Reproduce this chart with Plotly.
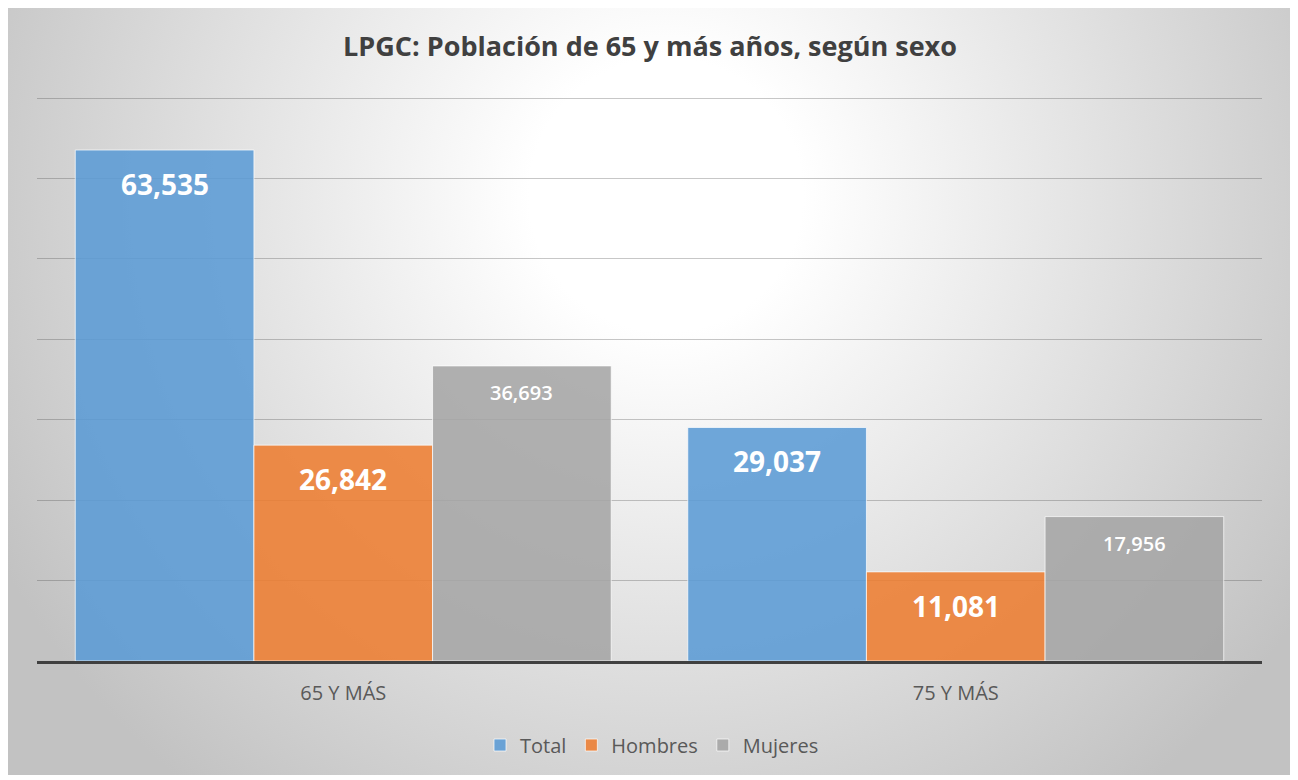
import base64
import plotly.graph_objects as go

categories = ["65 Y MÁS", "75 Y MÁS"]
series_names = ["Total", "Hombres", "Mujeres"]
total = [63535, 29037]
hombres = [26842, 11081]
mujeres = [36693, 17956]

# the page places the figure 8px from the top-left corner
OFF = 8
W, H = 1298 - OFF, 780 - OFF
YMAX = 71000
scale = (661 - 98) / 70000.0          # px per unit
top_px = 661 - YMAX * scale
ml, mt = 37 - OFF, int(round(top_px - OFF))
mr = W - (1262 - OFF)
mb = H - (661 - OFF)
pw, ph = W - ml - mr, H - mt - mb

svg = (
    '<svg xmlns="http://www.w3.org/2000/svg" width="1286" height="770" viewBox="0 0 1286 770" preserveAspectRatio="none">'
    '<defs><radialGradient id="g" gradientUnits="userSpaceOnUse" cx="660" cy="190" r="760">'
    '<stop offset="0" stop-color="#ffffff"/><stop offset="0.18" stop-color="#ffffff"/>'
    '<stop offset="1" stop-color="#c2c2c2"/></radialGradient></defs>'
    '<rect x="0" y="0" width="1286" height="770" fill="url(#g)"/></svg>'
)
src = "data:image/svg+xml;base64," + base64.b64encode(svg.encode()).decode()

fx = lambda px: (px - OFF - ml) / pw
fy = lambda py: 1 - (py - OFF - mt) / ph

colors = ["rgba(91,155,213,0.88)", "rgba(237,125,49,0.88)", "rgba(165,165,165,0.88)"]
data = [total, hombres, mujeres]

fig = go.Figure()
for name, vals, col in zip(series_names, data, colors):
    fig.add_trace(go.Bar(
        x=categories, y=vals, name=name,
        marker=dict(color=col, line=dict(color="rgba(255,255,255,0.7)", width=1)),
        hoverinfo="skip",
    ))

annotations = []
for i, (name, vals) in enumerate(zip(series_names, data)):
    big = name != "Mujeres"
    for j, v in enumerate(vals):
        annotations.append(dict(
            x=categories[j], y=v, xref="x", yref="y",
            xshift=(i - 1) * (pw / 2 * 0.875 / 3),
            yshift=-34 if big else -27,
            text=f"{v:,}", showarrow=False, yanchor="middle",
            font=dict(family="Open Sans", size=28 if big else 20, color="white",
                      weight="bold" if big else 600),
        ))

fig.update_layout(
    width=W, height=H,
    margin=dict(l=ml, r=mr, t=mt, b=mb),
    paper_bgcolor="white", plot_bgcolor="rgba(0,0,0,0)",
    barmode="group", bargap=0.125, bargroupgap=0,
    title=dict(text="<b>LPGC: Población de 65 y más años, según sexo</b>",
               x=fx(650), xanchor="center", xref="paper",
               y=1 - (47 - OFF) / H, yanchor="middle",
               font=dict(family="Open Sans", size=27, color="#404040")),
    font=dict(family="Open Sans", color="#595959"),
    showlegend=True,
    legend=dict(orientation="h", x=fx(652), xanchor="center", y=fy(745), yanchor="middle",
                font=dict(family="Open Sans", size=20, color="#595959"),
                itemwidth=30, traceorder="normal", bgcolor="rgba(0,0,0,0)"),
    xaxis=dict(showline=True, linecolor="#404040", linewidth=3, ticks="",
               tickfont=dict(family="Open Sans", size=20, color="#595959"),
               ticklabelstandoff=12, showgrid=False, fixedrange=True),
    yaxis=dict(range=[0, YMAX], dtick=10000, showticklabels=False,
               showgrid=True, gridcolor="rgba(70,70,70,0.3)", gridwidth=1,
               zeroline=False, showline=False, fixedrange=True),
    images=[dict(source=src, xref="paper", yref="paper",
                 x=fx(6), y=fy(5), sizex=1286 / pw, sizey=770 / ph,
                 xanchor="left", yanchor="top", sizing="stretch", layer="below")],
    annotations=annotations,
)

fig.write_html("out.html")
